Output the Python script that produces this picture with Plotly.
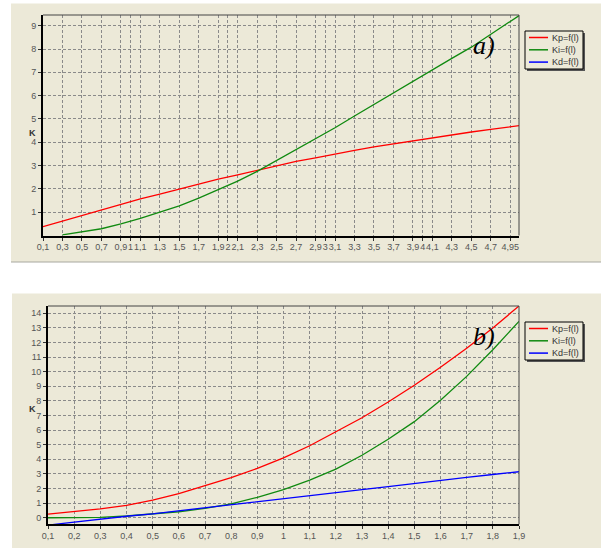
import plotly.graph_objects as go

# ---------------- data ----------------
# panel a)
xa = [0.1, 0.3, 0.5, 0.7, 0.9, 1.1, 1.3, 1.5, 1.7, 1.9, 2.1, 2.3, 2.5, 2.7, 2.9,
      3.1, 3.3, 3.5, 3.7, 3.9, 4.1, 4.3, 4.5, 4.7, 4.9, 5.0]
kp_a = [0.38, 0.62, 0.86, 1.10, 1.33, 1.57, 1.78, 2.00, 2.20, 2.42, 2.60, 2.80, 3.00,
        3.18, 3.33, 3.50, 3.65, 3.80, 3.93, 4.05, 4.20, 4.32, 4.44, 4.55, 4.67, 4.72]
ki_a = [None, 0.03, 0.15, 0.29, 0.50, 0.73, 1.00, 1.27, 1.60, 1.97, 2.33, 2.75, 3.22,
        3.70, 4.15, 4.62, 5.13, 5.63, 6.13, 6.62, 7.10, 7.60, 8.08, 8.63, 9.18, 9.46]
xa_ticks = [0.1, 0.3, 0.5, 0.7, 0.9, 1, 1.1, 1.3, 1.5, 1.7, 1.9, 2, 2.1, 2.3, 2.5, 2.7,
            2.9, 3, 3.1, 3.3, 3.5, 3.7, 3.9, 4, 4.1, 4.3, 4.5, 4.7, 4.9]
xa_ticktext = ["0,1", "0,3", "0,5", "0,7", "0,9", "1", "1,1", "1,3", "1,5", "1,7", "1,9",
               "2", "2,1", "2,3", "2,5", "2,7", "2,9", "3", "3,1", "3,3", "3,5", "3,7",
               "3,9", "4", "4,1", "4,3", "4,5", "4,7", "4,95"]
ya_ticks = [1, 2, 3, 4, 5, 6, 7, 8, 9]

# panel b)
xb = [0.1, 0.2, 0.3, 0.4, 0.5, 0.6, 0.7, 0.8, 0.9, 1.0, 1.1, 1.2, 1.3, 1.4, 1.5,
      1.6, 1.7, 1.8, 1.9]
kp_b = [0.25, 0.40, 0.60, 0.85, 1.20, 1.65, 2.17, 2.74, 3.38, 4.10, 4.93, 5.88, 6.85,
        7.93, 9.07, 10.30, 11.60, 13.00, 14.50]
ki_b = [0.0, 0.0, 0.03, 0.12, 0.25, 0.41, 0.64, 0.95, 1.40, 1.92, 2.58, 3.33, 4.28,
        5.37, 6.58, 8.05, 9.68, 11.50, 13.45]
kd_b = [-0.50, -0.29, -0.09, 0.10, 0.27, 0.47, 0.68, 0.89, 1.10, 1.30, 1.51, 1.71,
        1.92, 2.13, 2.35, 2.57, 2.77, 2.96, 3.15]
xb_ticks = [0.1, 0.2, 0.3, 0.4, 0.5, 0.6, 0.7, 0.8, 0.9, 1, 1.1, 1.2, 1.3, 1.4, 1.5,
            1.6, 1.7, 1.8, 1.9]
xb_ticktext = ["0,1", "0,2", "0,3", "0,4", "0,5", "0,6", "0,7", "0,8", "0,9", "1",
               "1,1", "1,2", "1,3", "1,4", "1,5", "1,6", "1,7", "1,8", "1,9"]
yb_ticks = list(range(0, 15))

names = ["Kp=f(l)", "Ki=f(l)", "Kd=f(l)"]
colors = ["#ff0000", "#108a10", "#0000ff"]

# ---------------- figure ----------------
W, H = 601, 548
BEIGE = "#ECE9D8"
fig = go.Figure()

fig.add_trace(go.Scatter(x=xa, y=kp_a, mode="lines", name=names[0],
                         line=dict(color=colors[0], width=1.3), xaxis="x", yaxis="y"))
fig.add_trace(go.Scatter(x=xa, y=ki_a, mode="lines", name=names[1],
                         line=dict(color=colors[1], width=1.3), xaxis="x", yaxis="y"))
for name, col, ys in zip(names, colors, [kp_b, ki_b, kd_b]):
    fig.add_trace(go.Scatter(x=xb, y=ys, mode="lines", name=name,
                             line=dict(color=col, width=1.3), xaxis="x2", yaxis="y2"))


def px_x(p):
    return p / W


def px_y(p):
    return 1 - p / H


tickfont = dict(family="Liberation Sans, Arial", size=9, color="#555555")
common = dict(showgrid=True, gridcolor="#8a8a8a", gridwidth=1, griddash="3px,2px",
              zeroline=False, showline=True, linecolor="#000000", linewidth=2,
              ticks="outside", ticklen=3, tickcolor="#333333", tickfont=tickfont,
              tickangle=0, fixedrange=True, automargin=False)

fig.update_layout(
    template="none",
    width=W, height=H,
    margin=dict(l=0, r=0, t=0, b=0, pad=0, autoexpand=False),
    paper_bgcolor="white",
    plot_bgcolor=BEIGE,
    showlegend=False,
    xaxis=dict(domain=[px_x(43), px_x(519)], anchor="y", range=[0.1, 4.99],
               tickmode="array", tickvals=xa_ticks, ticktext=xa_ticktext,
               ticklabelstandoff=-1, **common),
    yaxis=dict(domain=[px_y(235.5), px_y(15)], anchor="x", range=[0, 9.46],
               tickmode="array", tickvals=ya_ticks, **common),
    xaxis2=dict(domain=[px_x(48), px_x(519)], anchor="y2", range=[0.1, 1.9],
                tickmode="array", tickvals=xb_ticks, ticktext=xb_ticktext,
                ticklabelstandoff=-1, **common),
    yaxis2=dict(domain=[px_y(524.3), px_y(306)], anchor="x2", range=[-0.45, 14.5],
                tickmode="array", tickvals=yb_ticks, **common),
)

# beige panels behind the charts
fig.add_shape(type="rect", xref="paper", yref="paper", x0=px_x(11), x1=1,
              y0=px_y(262), y1=px_y(3.5), fillcolor=BEIGE,
              line=dict(width=0), layer="below")
fig.add_shape(type="line", xref="paper", yref="paper", x0=px_x(11), x1=1,
              y0=px_y(262), y1=px_y(262), line=dict(color="#a8a8a0", width=1))
fig.add_shape(type="rect", xref="paper", yref="paper", x0=px_x(12), x1=1,
              y0=0, y1=px_y(293.5), fillcolor=BEIGE,
              line=dict(width=0), layer="below")

# thin frame on top/right of each plot
for xr, yr in [("x", "y"), ("x2", "y2")]:
    fig.add_shape(type="line", xref=xr + " domain", yref=yr + " domain",
                  x0=0, x1=1, y0=1, y1=1, line=dict(color="#444444", width=1))
    fig.add_shape(type="line", xref=xr + " domain", yref=yr + " domain",
                  x0=1, x1=1, y0=0, y1=1, line=dict(color="#444444", width=1))

# hand-drawn legends (box, line samples, labels)
legfont = dict(family="Liberation Sans, Arial", size=9, color="#333333")


def draw_legend(top, entries):
    bx0, bx1 = 525, 583
    bh = 38
    fig.add_shape(type="rect", xref="paper", yref="paper",
                  x0=px_x(bx0 + 2), x1=px_x(bx1 + 2), y0=px_y(top + bh + 2), y1=px_y(top + 2),
                  fillcolor="#555555", line=dict(width=0))
    fig.add_shape(type="rect", xref="paper", yref="paper",
                  x0=px_x(bx0), x1=px_x(bx1), y0=px_y(top + bh), y1=px_y(top),
                  fillcolor=BEIGE, line=dict(color="#000000", width=1))
    for i, (name, col) in enumerate(entries):
        yy = top + 6.5 + i * 12.3
        fig.add_shape(type="line", xref="paper", yref="paper",
                      x0=px_x(529), x1=px_x(548), y0=px_y(yy), y1=px_y(yy),
                      line=dict(color=col, width=1.5))
        fig.add_annotation(xref="paper", yref="paper", x=px_x(550), y=px_y(yy),
                           text=name, showarrow=False, font=legfont,
                           xanchor="left", yanchor="middle")


draw_legend(31, list(zip(names, colors)))
draw_legend(322, list(zip(names, colors)))

# labels
serif = dict(family="Liberation Serif, Times New Roman", size=26, color="black")
fig.add_annotation(xref="paper", yref="paper", x=px_x(484), y=px_y(46),
                   text="<i>a)</i>", showarrow=False, font=serif,
                   xanchor="center", yanchor="middle")
fig.add_annotation(xref="paper", yref="paper", x=px_x(484), y=px_y(336),
                   text="<i>b)</i>", showarrow=False, font=serif,
                   xanchor="center", yanchor="middle")
kfont = dict(family="Liberation Sans, Arial", size=9, color="#333333")
fig.add_annotation(xref="paper", yref="paper", x=px_x(27), y=px_y(126),
                   text="<b>K</b>", showarrow=False, font=kfont)
fig.add_annotation(xref="paper", yref="paper", x=px_x(27), y=px_y(416),
                   text="<b>K</b>", showarrow=False, font=kfont)

fig.write_html("out.html",
               config={"displayModeBar": False},
               post_script="document.body.style.margin='0';"
                           "document.body.style.overflow='hidden';")
